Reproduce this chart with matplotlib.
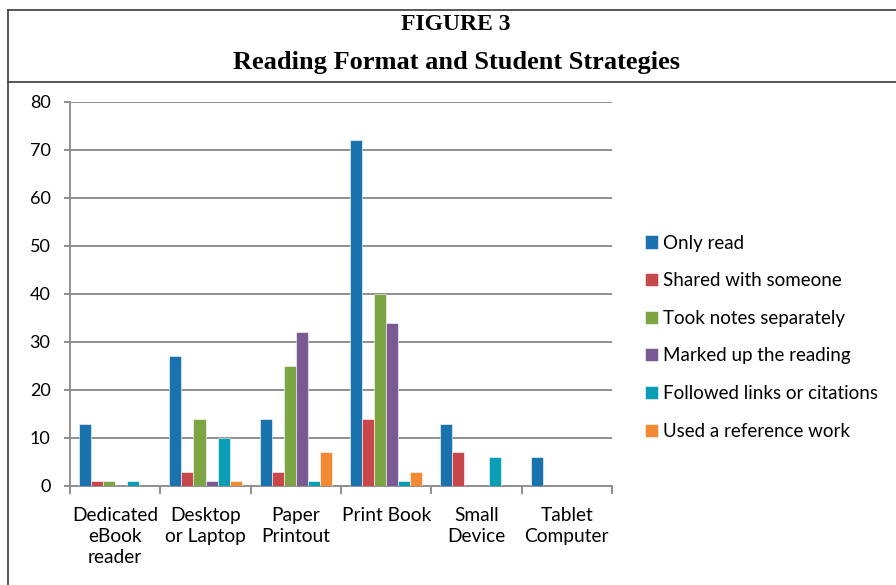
import numpy as np
import matplotlib
matplotlib.use("Agg")
import matplotlib.pyplot as plt
from matplotlib.lines import Line2D

# data
categories = ["Dedicated\neBook\nreader", "Desktop\nor Laptop", "Paper\nPrintout",
              "Print Book", "Small\nDevice", "Tablet\nComputer"]
series_names = ["Only read", "Shared with someone", "Took notes separately",
                "Marked up the reading", "Followed links or citations",
                "Used a reference work"]
only_read = [13, 27, 14, 72, 13, 6]
shared = [1, 3, 3, 14, 7, 0]
took_notes = [1, 14, 25, 40, 0, 0]
marked_up = [0, 1, 32, 34, 0, 0]
followed_links = [1, 10, 1, 1, 6, 0]
used_reference = [0, 1, 7, 3, 0, 0]
y_ticks = [0, 10, 20, 30, 40, 50, 60, 70, 80]

colors = ["#1A72AE", "#C8474A", "#7EA544", "#7B5A94", "#0A9DB6", "#F28A33"]
series = [only_read, shared, took_notes, marked_up, followed_links, used_reference]

plt.rcParams['font.family'] = ['Lato', 'DejaVu Sans']

fig = plt.figure(figsize=(8.96, 5.85), dpi=100)
W, H = 896, 585

# frame around the figure
frame_col = "#3a3a3a"
fig.add_artist(Line2D([8 / W, 8 / W], [0, 1 - 10 / H], color=frame_col, lw=1.2))
fig.add_artist(Line2D([8 / W, 1], [1 - 10 / H, 1 - 10 / H], color=frame_col, lw=1.2))
fig.add_artist(Line2D([8 / W, 1], [1 - 82 / H, 1 - 82 / H], color=frame_col, lw=1.2))

fig.text(456 / W, 1 - 25 / H, "FIGURE 3", ha="center", va="center",
         family="Liberation Serif", weight="bold", fontsize=17)
fig.text(456 / W, 1 - 62 / H, "Reading Format and Student Strategies", ha="center",
         va="center", family="Liberation Serif", weight="bold", fontsize=19)

ax = fig.add_axes([70 / W, 99 / H, 542 / W, 384 / H])

n = len(series)
bw = 1.0 / (n + 1.5)
x = np.arange(len(categories))
for i, (vals, col, name) in enumerate(zip(series, colors, series_names)):
    offs = (i - (n - 1) / 2) * bw
    ax.bar(x + offs, vals, width=bw, color=col, label=name,
           edgecolor="white", linewidth=0.4, zorder=3)

ax.set_xlim(-0.5, len(categories) - 0.5)
ax.set_ylim(0, 80)
ax.set_yticks(y_ticks)
ax.set_yticklabels([str(v) for v in y_ticks], fontsize=13)
ax.yaxis.grid(True, color="#8f8f8f", lw=1.4, zorder=0)
ax.set_axisbelow(True)

ax.set_xticks(np.arange(-0.5, len(categories)), minor=False)
ax.set_xticklabels([])
ax.set_xticks(x, minor=True)
ax.set_xticklabels(categories, minor=True, fontsize=13.8, linespacing=1.3, va="top")
ax.tick_params(axis="x", which="minor", length=0, pad=15)
ax.tick_params(axis="x", which="major", length=6, width=1.4, color="#8f8f8f", direction="out")
ax.tick_params(axis="y", length=4, width=1.4, color="#8f8f8f", pad=10)

for s in ["top", "right"]:
    ax.spines[s].set_visible(False)
for s in ["left", "bottom"]:
    ax.spines[s].set_color("#8f8f8f")
    ax.spines[s].set_linewidth(1.4)

leg = fig.legend(loc="upper left", bbox_to_anchor=(637 / W, 1 - 227 / H), frameon=False,
                 fontsize=13.5, handlelength=0.7, handleheight=0.7, handletextpad=0.3,
                 labelspacing=1.1, borderaxespad=0)

fig.savefig("out.png", dpi=100)
